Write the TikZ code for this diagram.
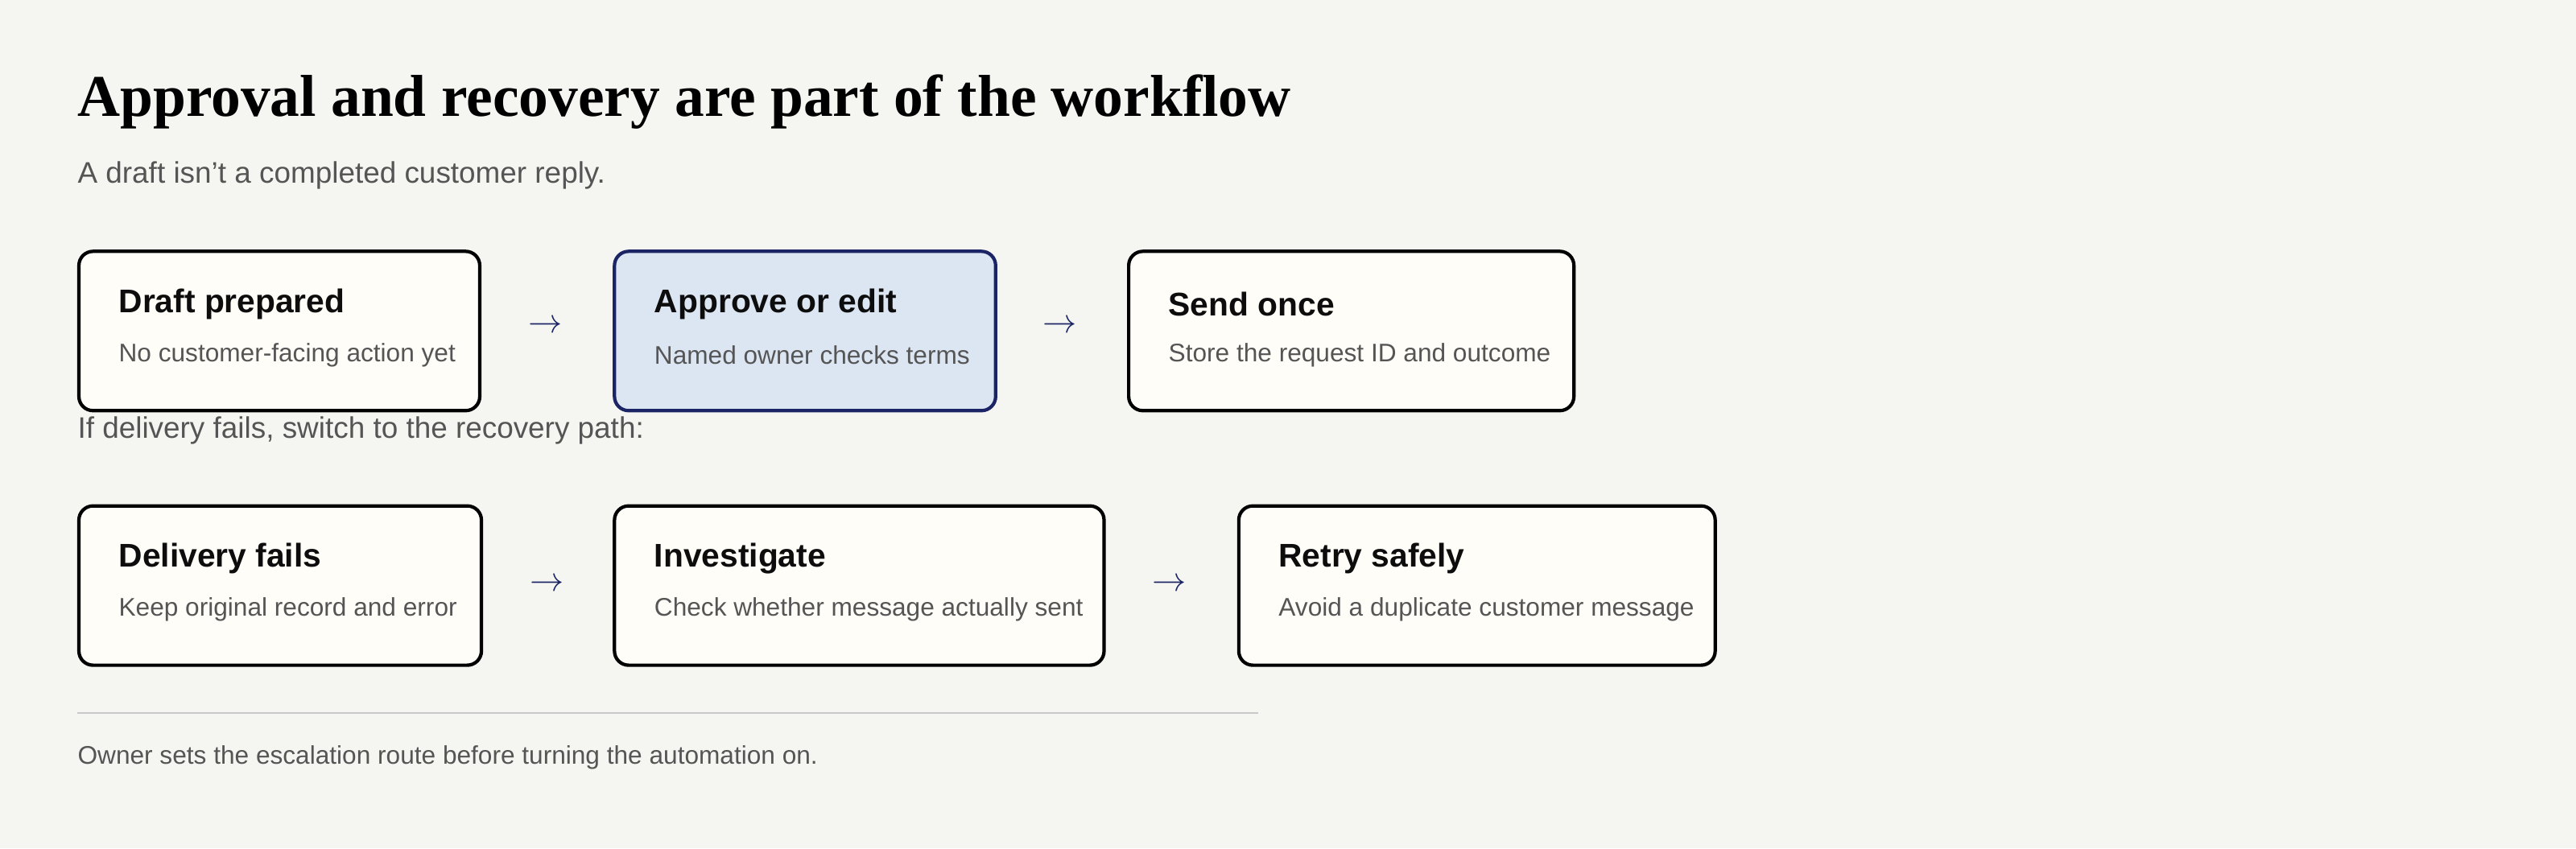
\documentclass[tikz,border=0pt]{standalone}
\usepackage{fontspec}
\setmainfont{Liberation Sans}
\newfontfamily\headserif{Liberation Serif}
\usetikzlibrary{positioning}
\definecolor{pagebg}{HTML}{F5F6F1}
\definecolor{cardbg}{HTML}{FEFDF8}
\definecolor{hlbg}{HTML}{DCE6F3}
\definecolor{hlline}{HTML}{1B2465}
\definecolor{inkgray}{HTML}{555555}
\definecolor{rulegray}{HTML}{C8C8C8}
\begin{document}
\begin{tikzpicture}[x=0.02041cm,y=-0.02041cm,
  card/.style={draw=black, line width=1.2pt, rounded corners=5pt, fill=cardbg, anchor=north west, inner sep=0pt},
  hot/.style={card, draw=hlline, fill=hlbg},
  ttl/.style={anchor=west, inner sep=0pt, font=\fontsize{11.6}{14}\selectfont\bfseries, text=black!95},
  sub/.style={anchor=west, inner sep=0pt, font=\fontsize{9}{11}\selectfont, text=inkgray},
  arr/.style={inner sep=0pt, text=hlline, font=\fontsize{13}{14}\selectfont}]
\fill[pagebg] (0,0) rectangle (1568,516.5);
\useasboundingbox (0,0) rectangle (1568,516.5);
\node[anchor=west, inner sep=0pt, font=\fontsize{20.9}{24}\selectfont\headserif\bfseries] (head) at (47,62) {Approval and recovery are part of the workflow};
\node[anchor=west, inner sep=0pt, font=\fontsize{10.5}{12}\selectfont, text=inkgray] (lede) at (47,107) {A draft isn't a completed customer reply.};
% first row
\foreach \n/\x/\w/\s/\t/\u in {draft/47/244/card/Draft prepared/No customer-facing action yet,
  approve/373/232/hot/Approve or edit/Named owner checks terms,
  send/686/271/card/Send once/Store the request ID and outcome}{
  \node[\s, minimum width=\w*0.02041cm, minimum height=97*0.02041cm] (\n) at (\x,152) {};
  \node[ttl] (\n-t) at (\x+25,185) {\t};
  \node[sub] (\n-s) at (\x+25,216) {\u};}
\node[arr] (a1) at (332,199) {$\rightarrow$};
\node[arr] (a2) at (645,199) {$\rightarrow$};
\node[anchor=west, inner sep=0pt, font=\fontsize{10.5}{12}\selectfont, text=inkgray] (switch) at (47,262) {If delivery fails, switch to the recovery path:};
% second row
\foreach \n/\x/\w/\t/\u in {fails/47/245/Delivery fails/Keep original record and error,
  check/373/298/Investigate/Check whether message actually sent,
  retry/753/290/Retry safely/Avoid a duplicate customer message}{
  \node[card, minimum width=\w*0.02041cm, minimum height=97*0.02041cm] (\n) at (\x,307) {};
  \node[ttl] (\n-t) at (\x+25,340) {\t};
  \node[sub] (\n-s) at (\x+25,371) {\u};}
\node[arr] (a3) at (333,356) {$\rightarrow$};
\node[arr] (a4) at (712,356) {$\rightarrow$};
\coordinate (ruleL) at (47,434);
\coordinate (ruleR) at (766,434);
\draw[rulegray, line width=0.6pt] (ruleL) -- (ruleR);
\node[sub] (foot) at (47,461) {Owner sets the escalation route before turning the automation on.};
\end{tikzpicture}
\end{document}
